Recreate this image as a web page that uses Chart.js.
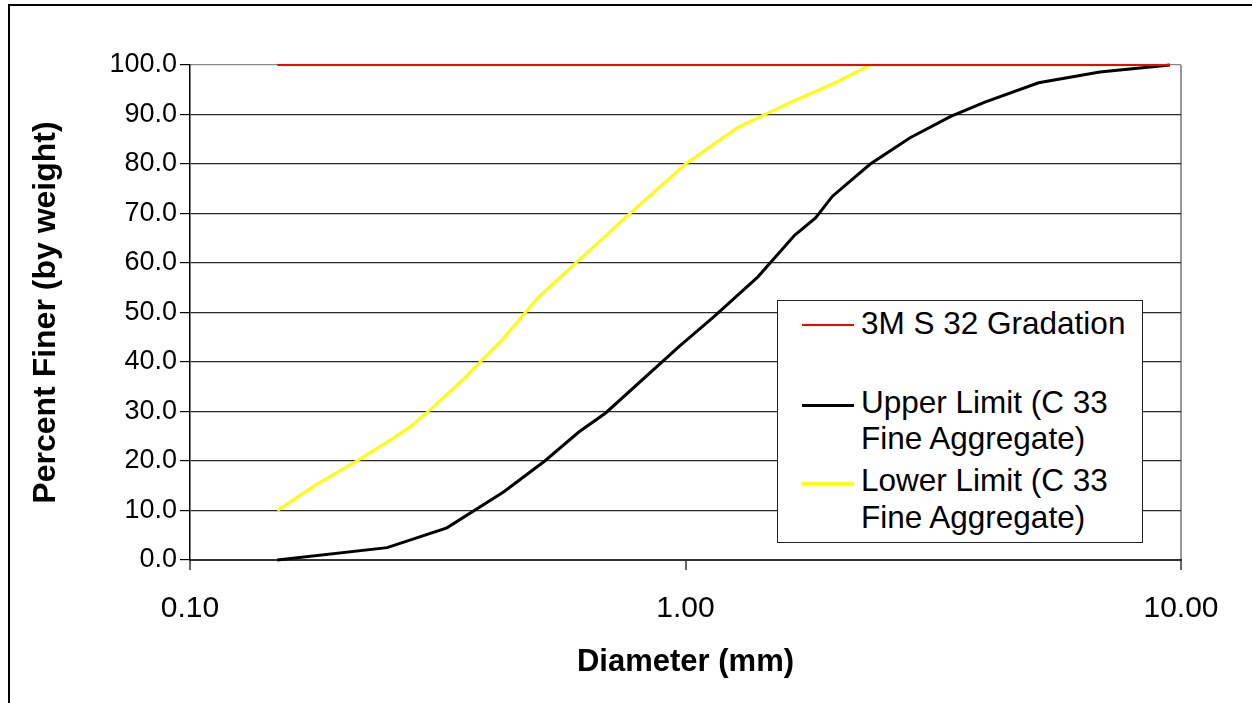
<!DOCTYPE html>
<html>
<head>
<meta charset="utf-8">
<script src="https://cdn.jsdelivr.net/npm/chart.js@4.4.1/dist/chart.umd.min.js"></script>
<style>
  html, body { margin: 0; padding: 0; background: #fff; overflow: hidden; }
  #wrap { position: relative; width: 1252px; height: 703px; overflow: hidden; }
  #frame { position: absolute; left: 8px; top: 4px; width: 1400px; height: 900px;
           border-left: 2px solid #000; border-top: 2px solid #000; }
  #c { position: absolute; left: 0; top: 0; }
  #legend { position: absolute; left: 777px; top: 300px; width: 364px; height: 241px;
            border: 1px solid #222; background: #fff;
            font-family: "Liberation Sans", Arial, sans-serif; font-size: 31.5px; color: #000; }
  .lg-line { position: absolute; left: 24px; width: 52px; }
  .lg-text { position: absolute; left: 83px; white-space: nowrap; line-height: 36px; }
</style>
</head>
<body>
<div id="wrap">
  <div id="frame"></div>
  <canvas id="c" width="1252" height="703"></canvas>
  <div id="legend"></div>
</div>
<script>
// ---- data ----
const seriesNames = ["3M S 32 Gradation", "Upper Limit (C 33 Fine Aggregate)", "Lower Limit (C 33 Fine Aggregate)"];
const seriesLegendLines = [["3M S 32 Gradation"], ["Upper Limit (C 33", "Fine Aggregate)"], ["Lower Limit (C 33", "Fine Aggregate)"]];

const gradationDiameter = [0.15, 0.3, 0.6, 1.18, 2.36, 4.75, 9.5];
const gradationPercent  = [100, 100, 100, 100, 100, 100, 100];

const upperDiameter = [0.15, 0.25, 0.33, 0.43, 0.52, 0.61, 0.69, 0.97, 1.14, 1.40, 1.66, 1.83, 1.98, 2.36, 2.84, 3.43, 4.02, 5.16, 6.86, 9.5];
const upperPercent  = [0.0, 2.5, 6.5, 13.8, 20.0, 25.9, 29.7, 43.1, 49.1, 57.2, 65.6, 69.1, 73.5, 80.0, 85.3, 89.6, 92.5, 96.4, 98.6, 100.0];

const lowerDiameter = [0.15, 0.18, 0.217, 0.253, 0.278, 0.30, 0.356, 0.385, 0.43, 0.504, 0.603, 0.772, 1.0, 1.274, 1.445, 1.665, 1.98, 2.36];
const lowerPercent  = [10.0, 15.3, 20.0, 24.2, 26.9, 29.7, 36.5, 40.0, 44.9, 53.0, 60.2, 70.0, 80.0, 87.4, 90.0, 92.9, 96.2, 100.0];

const xTickValues = [0.1, 1, 10];
const xTickLabels = ["0.10", "1.00", "10.00"];
const yTickValues = [0, 10, 20, 30, 40, 50, 60, 70, 80, 90, 100];
const yTickLabels = ["0.0", "10.0", "20.0", "30.0", "40.0", "50.0", "60.0", "70.0", "80.0", "90.0", "100.0"];

const xTitle = "Diameter (mm)";
const yTitle = "Percent Finer (by weight)";

// ---- styles ----
const colors = ["#ff0000", "#000000", "#ffff00"];
const widths = [2, 3, 3];
const FONT = '"Liberation Sans", Arial, sans-serif';

const pts = (xs, ys) => xs.map((x, i) => ({ x: x, y: ys[i] }));

const datasets = [
  { label: seriesNames[0], data: pts(gradationDiameter, gradationPercent) },
  { label: seriesNames[1], data: pts(upperDiameter, upperPercent) },
  { label: seriesNames[2], data: pts(lowerDiameter, lowerPercent) }
].map((d, i) => Object.assign(d, {
  borderColor: colors[i], backgroundColor: colors[i], borderWidth: widths[i],
  pointRadius: 0, pointHoverRadius: 0, tension: 0, fill: false, clip: false
}));

new Chart(document.getElementById('c'), {
  type: 'line',
  data: { datasets: datasets },
  options: {
    responsive: false, animation: false, devicePixelRatio: 1,
    layout: { padding: { left: 20, top: 65, right: 71, bottom: 20 } },
    plugins: { legend: { display: false }, tooltip: { enabled: false } },
    scales: {
      x: {
        type: 'logarithmic', min: 0.1, max: 10,
        afterBuildTicks: s => { s.ticks = xTickValues.map(v => ({ value: v })); },
        afterFit: s => { s.height = 123; },
        ticks: {
          autoSkip: false, maxRotation: 0, padding: 21, color: '#000',
          font: { family: FONT, size: 30 },
          callback: (v, i) => xTickLabels[i]
        },
        grid: {
          drawOnChartArea: true, drawTicks: true, tickLength: 10,
          color: ctx => (ctx.tick && ctx.tick.value === 10) ? '#999999' : 'rgba(0,0,0,0)',
          lineWidth: 2, tickColor: '#333', tickWidth: 1.5
        },
        border: { display: true, color: '#333', width: 2 },
        title: {
          display: true, text: xTitle, color: '#000',
          font: { family: FONT, size: 31, weight: 'bold' },
          padding: { top: 0, bottom: 2 }
        }
      },
      y: {
        type: 'linear', min: 0, max: 100,
        afterBuildTicks: s => { s.ticks = yTickValues.map(v => ({ value: v })); },
        afterFit: s => { s.width = 170; },
        ticks: {
          autoSkip: false, padding: 3, color: '#000',
          font: { family: FONT, size: 27 },
          callback: (v, i) => yTickLabels[i]
        },
        grid: {
          drawTicks: true, tickLength: 10,
          color: ctx => (ctx.tick && ctx.tick.value === 100) ? '#888888' : '#2a2a2a',
          lineWidth: 1.2, tickColor: '#000'
        },
        border: { display: true, color: '#000', width: 1.5 },
        title: {
          display: true, text: yTitle, color: '#000',
          font: { family: FONT, size: 32, weight: 'bold' },
          padding: { top: 7, bottom: 0 }
        }
      }
    }
  }
});

// ---- legend (HTML, real text) ----
const legendLineY = [24, 104, 182];
const legendTextTop = [[4], [83, 119], [161, 198]];
const legend = document.getElementById('legend');
seriesLegendLines.forEach((lines, i) => {
  const ln = document.createElement('div');
  ln.className = 'lg-line';
  ln.style.top = (legendLineY[i] - widths[i] / 2) + 'px';
  ln.style.height = widths[i] + 'px';
  ln.style.background = colors[i];
  legend.appendChild(ln);
  lines.forEach((t, j) => {
    const tx = document.createElement('div');
    tx.className = 'lg-text';
    tx.style.top = legendTextTop[i][j] + 'px';
    tx.textContent = t;
    legend.appendChild(tx);
  });
});
</script>
</body>
</html>
